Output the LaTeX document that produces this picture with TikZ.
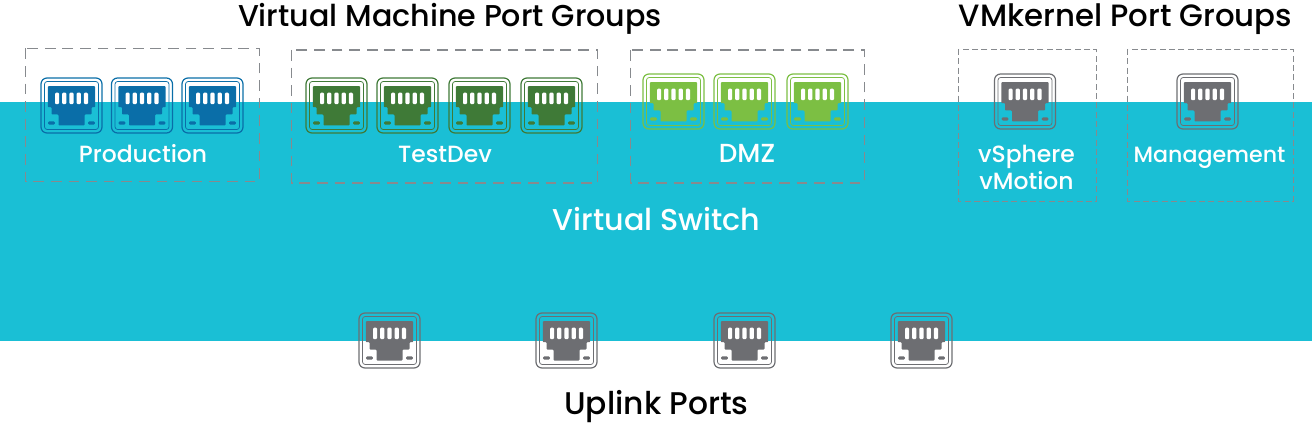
\documentclass[tikz,border=0pt]{standalone}
\usepackage{fontspec}
\setmainfont{Poppins}
\newfontfamily\medfont{Poppins Medium}
\definecolor{band}{HTML}{1ABFD5}
\definecolor{cblue}{HTML}{0A6EA8}
\definecolor{cdgreen}{HTML}{3F7A37}
\definecolor{clgreen}{HTML}{7CBF43}
\definecolor{cgrey}{HTML}{6D6E72}
\definecolor{dashc}{HTML}{878A8E}
\tikzset{
  x=0.75pt,y=-0.75pt,
  groupbox/.style={draw=dashc,line width=0.8pt,dash pattern=on 8pt off 5.2pt},
  kernelbox/.style={draw=dashc,line width=0.7pt,dash pattern=on 4.5pt off 2.5pt},
  grouplabel/.style={text=white,font=\medfont\fontsize{17.6}{20.1}\selectfont,align=center,inner sep=0,anchor=base},
  headline/.style={text=black,font=\medfont\fontsize{22.6}{25}\selectfont,inner sep=0,anchor=base},
  pics/port/.style={code={
    \draw[#1,line width=0.9pt,rounded corners=4.5pt] (-30.5,-27.5) rectangle (30.5,27.5);
    \draw[#1,line width=0.55pt,rounded corners=2pt] (-27,-24) rectangle (27,24);
    \fill[#1,rounded corners=0.6pt] (-23.7,-19.3) -- (23.7,-19.3) -- (23.7,1.7) -- (20,1.7) -- (20,9) -- (13,9) -- (13,20) -- (-13,20) -- (-13,9) -- (-20,9) -- (-20,1.7) -- (-23.7,1.7) -- cycle;
    \foreach \i in {-14.4,-7.2,0,7.2,14.4}
      \fill[white,rounded corners=0.8pt] (\i-2.1,-12.8) rectangle (\i+2.1,-1.4);
    \fill[#1,rounded corners=1pt] (-23.4,15.8) rectangle (-16.6,19.2);
    \fill[#1,rounded corners=1pt] (16.6,15.8) rectangle (23.4,19.2);
  }}
}
\begin{document}
\begin{tikzpicture}
\useasboundingbox (0,0) rectangle (1312,424);
\fill[band] (0,102) rectangle (1312,341);
\draw[groupbox] (25.5,48.5) rectangle (259.5,181.5);
\draw[groupbox] (291.5,50) rectangle (597.5,183);
\draw[groupbox] (630.5,50) rectangle (864.5,183);
\draw[kernelbox] (958,49) rectangle (1096,201);
\draw[kernelbox] (1127,49) rectangle (1293,201);
\foreach \x in {71.5,142,212.5} \pic at (\x,105.5) {port=cblue};
\foreach \x in {336.5,407.5,479.5,551.5} \pic at (\x,105.5) {port=cdgreen};
\foreach \x in {673.5,744.5,817.5} \pic at (\x,101.5) {port=clgreen};
\pic at (1025,101.5) {port=cgrey};
\pic at (1207.5,101.5) {port=cgrey};
\foreach \x in {389.5,566.5,744.5,921.5} \pic at (\x,340.5) {port=cgrey};
\node[headline] (vmpg) at (450,27) {Virtual Machine Port Groups};
\node[headline,font=\medfont\fontsize{23.1}{25}\selectfont] (vkpg) at (1125.5,27) {VMkernel Port Groups};
\node[grouplabel] (prod) at (143,162.5) {Production};
\node[grouplabel] (test) at (445,162.5) {TestDev};
\node[grouplabel,font=\medfont\fontsize{19.6}{20}\selectfont] (dmz) at (747,162.5) {DMZ};
\node[grouplabel] (vsph) at (1026.5,189) {vSphere\\vMotion};
\node[grouplabel,font=\medfont\fontsize{16.6}{20}\selectfont] (mgmt) at (1209.5,162.5) {Management};
\node[headline,text=white] (vsw) at (656.5,230.5) {Virtual Switch};
\node[headline,font=\medfont\fontsize{23.5}{25}\selectfont] (upl) at (656.5,414.5) {Uplink Ports};
\end{tikzpicture}
\end{document}
